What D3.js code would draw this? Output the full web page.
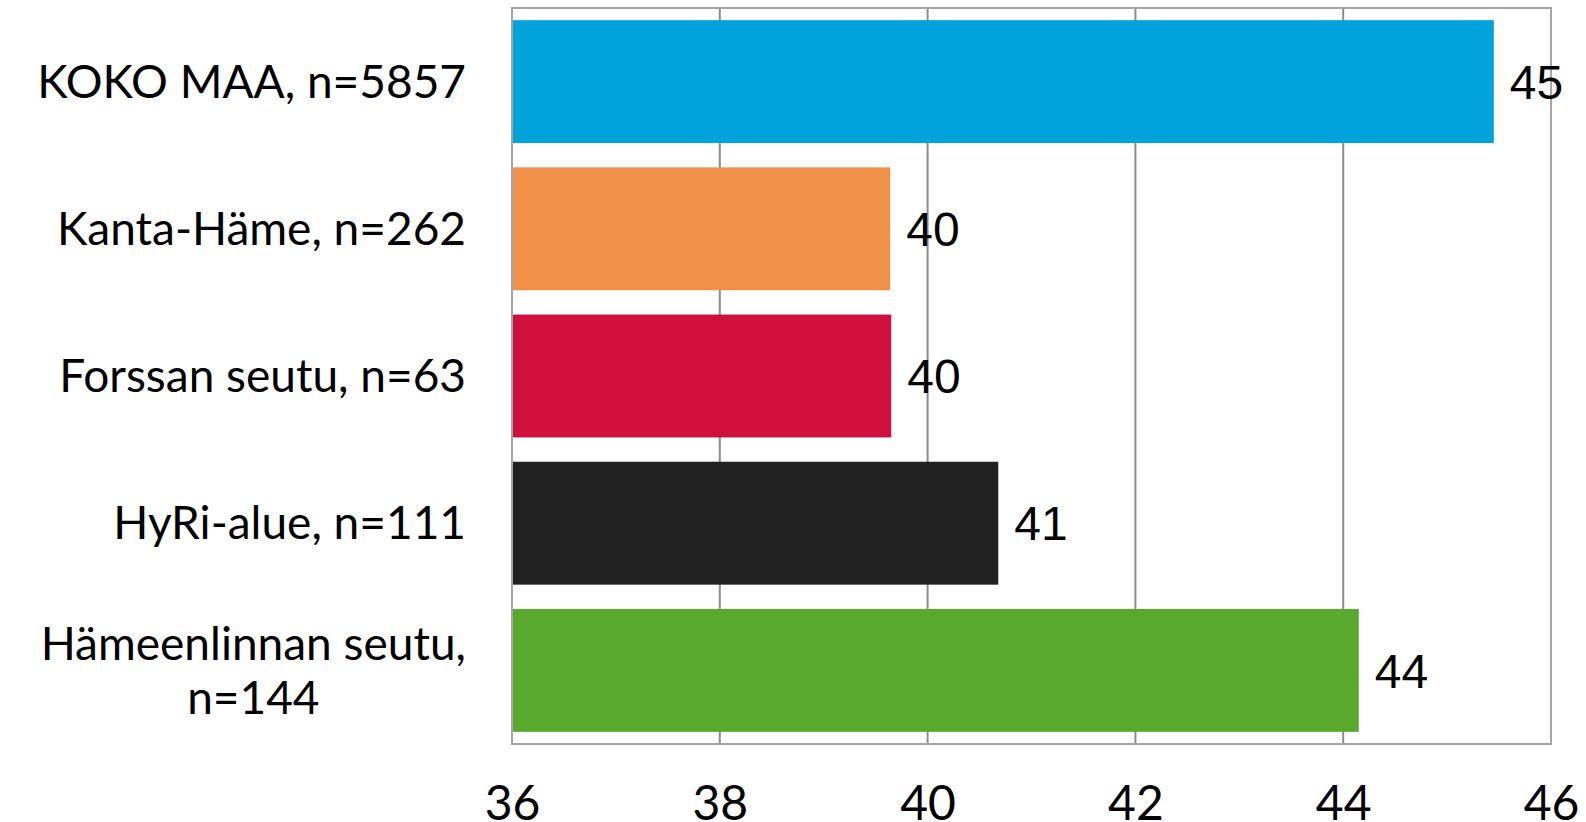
<!DOCTYPE html>
<html>
<head>
<meta charset="utf-8">
<script src="https://cdn.jsdelivr.net/npm/d3@7"></script>
<style>
    body { margin: 0; background: #fff; }
    svg { display: block; }
</style>
</head>
<body>
<svg id="chart" width="1586" height="822"></svg>
<script>
// Chart data
const categories = ['KOKO MAA, n=5857', 'Kanta-Häme, n=262', 'Forssan seutu, n=63', 'HyRi-alue, n=111', 'Hämeenlinnan seutu, n=144'];
const values = [45.45, 39.64, 39.65, 40.68, 44.15];
const barColors = ['#02a3da', '#f0914a', '#cf0f3d', '#222222', '#58a92e'];
const xTicks = [36, 38, 40, 42, 44, 46];

const svg = d3.select('#chart');
const plotLeft = 512, plotRight = 1551, plotTop = 8, plotBottom = 744;
const labelFont = 'Lato, "Open Sans", sans-serif';

const x = d3.scaleLinear().domain([36, 46]).range([plotLeft, plotRight]);
const y = d3.scaleBand()
    .domain(categories)
    .range([plotTop, plotBottom])
    .paddingInner(0.165)
    .paddingOuter(0.0825);

// Gridlines
svg.append('g')
    .selectAll('line')
    .data(xTicks.slice(1, -1))
    .enter().append('line')
    .attr('x1', d => x(d)).attr('x2', d => x(d))
    .attr('y1', plotTop).attr('y2', plotBottom)
    .attr('stroke', '#8c8c8c')
    .attr('stroke-width', 2);

// Plot border
svg.append('rect')
    .attr('x', plotLeft).attr('y', plotTop)
    .attr('width', plotRight - plotLeft).attr('height', plotBottom - plotTop)
    .attr('fill', 'none')
    .attr('stroke', '#a6a6a6')
    .attr('stroke-width', 2);

// Bars
svg.append('g')
    .selectAll('rect')
    .data(values)
    .enter().append('rect')
    .attr('x', x(36) + 1)
    .attr('y', (d, i) => y(categories[i]))
    .attr('width', d => x(d) - x(36) - 1)
    .attr('height', y.bandwidth())
    .attr('fill', (d, i) => barColors[i]);

// Value labels
svg.append('g')
    .selectAll('text')
    .data(values)
    .enter().append('text')
    .attr('x', d => x(d) + 16)
    .attr('y', (d, i) => y(categories[i]) + y.bandwidth() / 2)
    .attr('dy', '0.36em')
    .attr('font-family', '"Liberation Sans", Arial, sans-serif')
    .attr('font-size', 48)
    .attr('fill', '#000')
    .text(d => d3.format('.0f')(d));

// X axis
const xAxis = svg.append('g')
    .attr('transform', `translate(0,${plotBottom})`)
    .call(d3.axisBottom(x).tickValues(xTicks).tickSize(0).tickPadding(42));
xAxis.select('.domain').remove();
xAxis.selectAll('text')
    .attr('font-family', labelFont)
    .attr('font-size', 48)
    .attr('fill', '#000');

// Category labels, long ones wrap onto two centered lines
const labelRight = 466;
categories.forEach(cat => {
    const cy = y(cat) + y.bandwidth() / 2;
    const g = svg.append('g');
    if (cat.length > 22) {
        const parts = cat.split(', ');
        const line1 = g.append('text')
            .attr('font-family', labelFont).attr('font-size', 46)
            .attr('text-anchor', 'end')
            .attr('x', labelRight).attr('y', cy - 27).attr('dy', '0.35em')
            .text(parts[0] + ',');
        const w = line1.node().getComputedTextLength();
        g.append('text')
            .attr('font-family', labelFont).attr('font-size', 46)
            .attr('text-anchor', 'middle')
            .attr('x', labelRight - w / 2).attr('y', cy + 27).attr('dy', '0.35em')
            .text(parts[1]);
    } else {
        g.append('text')
            .attr('font-family', labelFont).attr('font-size', 46)
            .attr('text-anchor', 'end')
            .attr('x', labelRight).attr('y', cy).attr('dy', '0.35em')
            .text(cat);
    }
});
</script>
</body>
</html>
